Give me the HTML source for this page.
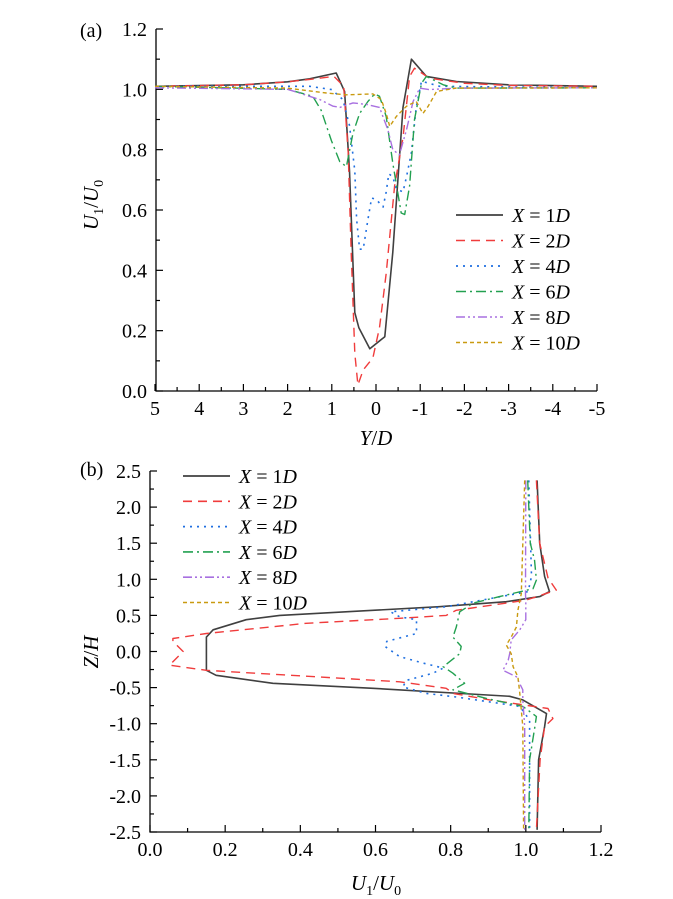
<!DOCTYPE html>
<html><head><meta charset="utf-8"><style>
html,body{margin:0;padding:0;background:#fff;}
svg{display:block;font-family:"Liberation Serif",serif;}
</style></head><body>
<svg id="c" width="673" height="899" viewBox="0 0 673 899" xmlns="http://www.w3.org/2000/svg"></svg>
<script>
// ---- panel (a) data: Y/D vs U1/U0 ----
const seriesNames = ["X = 1", "X = 2", "X = 4", "X = 6", "X = 8", "X = 10"];
const aY1 = [5,3,2,1.5,0.9,0.71,0.6,0.48,0.39,0.14,-0.2,-0.38,-0.61,-0.8,-1.14,-1.82,-3,-5];
const aU1 = [1.01,1.015,1.025,1.035,1.054,0.993,0.73,0.26,0.21,0.14,0.18,0.46,0.94,1.10,1.043,1.026,1.015,1.01];
const aY2 = [5,3,2,1.5,0.95,0.73,0.63,0.56,0.48,0.41,0.29,0.07,-0.08,-0.23,-0.42,-0.61,-0.76,-0.87,-1.21,-2,-3,-5];
const aU2 = [1.01,1.015,1.025,1.033,1.043,1.01,0.79,0.46,0.125,0.02,0.07,0.11,0.21,0.39,0.68,0.84,1.043,1.07,1.037,1.02,1.013,1.01];
const aY4 = [5,1.5,1,0.75,0.6,0.48,0.44,0.37,0.29,0.18,0.1,-0.01,-0.16,-0.23,-0.29,-0.38,-0.46,-0.61,-0.69,-0.8,-0.91,-1.03,-1.44,-5];
const aU4 = [1.01,1.01,0.999,0.966,0.88,0.73,0.57,0.47,0.47,0.57,0.64,0.634,0.61,0.66,0.72,0.71,0.67,0.66,0.71,0.79,0.94,1.027,1.01,1.005];
const aY6 = [5,2,1.43,1.24,1.01,0.82,0.67,0.52,0.37,0.18,0.03,-0.08,-0.23,-0.38,-0.57,-0.65,-0.76,-0.87,-1.03,-1.14,-1.52,-1.82,-5];
const aU6 = [1.01,1.0,0.977,0.93,0.83,0.76,0.744,0.855,0.92,0.96,0.985,0.977,0.91,0.755,0.59,0.585,0.68,0.9,1.02,1.043,1.015,1.004,1.005];
const aY8 = [5,2,1.27,0.97,0.82,0.52,0.22,-0.08,-0.27,-0.38,-0.53,-0.69,-0.84,-0.99,-1.21,-1.82,-5];
const aU8 = [1.005,1.0,0.966,0.944,0.94,0.955,0.95,0.94,0.866,0.80,0.783,0.866,0.96,1.004,0.999,1.004,1.005];
const aY10 = [5,2,1.12,0.67,0.07,-0.12,-0.23,-0.31,-0.46,-0.69,-0.91,-1.06,-1.18,-1.37,-1.82,-5];
const aU10 = [1.01,1.004,0.988,0.982,0.985,0.966,0.92,0.877,0.91,0.944,0.96,0.92,0.944,0.993,1.004,1.005];
const aXTicks = ["5","4","3","2","1","0","-1","-2","-3","-4","-5"];
const aXTickVals = [5,4,3,2,1,0,-1,-2,-3,-4,-5];
const aYTicks = ["0.0","0.2","0.4","0.6","0.8","1.0","1.2"];
const aYTickVals = [0,0.2,0.4,0.6,0.8,1.0,1.2];

// ---- panel (b) data: U1/U0 vs Z/H ----
const bZ1 = [2.37,1.5,1.04,0.83,0.76,0.69,0.62,0.5,0.44,0.3,0.2,-0.26,-0.33,-0.44,-0.51,-0.62,-0.67,-0.86,-1.04,-1.5,-2.47];
const bU1 = [1.03,1.037,1.05,1.063,1.037,0.948,0.77,0.345,0.256,0.168,0.15,0.15,0.176,0.327,0.593,0.957,0.992,1.055,1.05,1.034,1.03];
const bZ2 = [2.37,1.5,1.02,0.85,0.71,0.57,0.5,0.46,0.39,0.25,0.18,0.14,0,-0.19,-0.26,-0.37,-0.42,-0.51,-0.58,-0.67,-0.79,-0.93,-1.04,-1.5,-2.47];
const bU2 = [1.028,1.037,1.059,1.081,1.0,0.815,0.788,0.664,0.416,0.15,0.061,0.061,0.088,0.052,0.15,0.505,0.664,0.788,0.806,0.904,1.059,1.072,1.05,1.038,1.028];
const bZ4 = [2.37,1.04,0.83,0.69,0.62,0.55,0.48,0.44,0.25,0.14,0.07,-0.07,-0.16,-0.23,-0.3,-0.4,-0.49,-0.58,-0.63,-0.76,-0.95,-2.47];
const bU4 = [1.008,1.015,1.006,0.86,0.79,0.64,0.664,0.709,0.709,0.63,0.625,0.664,0.727,0.78,0.753,0.682,0.673,0.735,0.815,0.984,1.01,1.01];
const bZ6 = [2.37,1.5,1.27,0.99,0.87,0.76,0.67,0.55,0.34,0.2,0.07,-0.03,-0.21,-0.3,-0.44,-0.53,-0.65,-0.76,-0.9,-1.04,-1.5,-2.47];
const bU6 = [1.005,1.012,1.023,1.028,1.019,0.93,0.86,0.824,0.815,0.806,0.828,0.824,0.78,0.806,0.837,0.806,0.895,0.992,1.028,1.024,1.01,1.008];
const bZ8 = [2.37,0.8,0.67,0.44,0.3,0.16,-0.03,-0.12,-0.26,-0.35,-0.53,-0.67,-1.04,-2.47];
const bU8 = [1.0,0.999,1.0,1.0,0.984,0.961,0.957,0.953,0.939,0.975,0.992,0.992,0.997,0.997];
const bZ10 = [2.37,0.8,0.57,0.34,0.2,0.09,-0.03,-0.21,-0.35,-0.58,-1.04,-2.47];
const bU10 = [0.997,0.988,0.979,0.975,0.961,0.948,0.961,0.966,0.979,0.984,0.992,0.994];
const bXTicks = ["0.0","0.2","0.4","0.6","0.8","1.0","1.2"];
const bXTickVals = [0,0.2,0.4,0.6,0.8,1.0,1.2];
const bYTicks = ["-2.5","-2.0","-1.5","-1.0","-0.5","0.0","0.5","1.0","1.5","2.0","2.5"];
const bYTickVals = [-2.5,-2,-1.5,-1,-0.5,0,0.5,1,1.5,2,2.5];
const legendNums = ["1","2","4","6","8","10"];

const colors = ["#404040","#f03c3c","#1f6fe0","#22a050","#a870e0","#c99a10"];
const dashes = ["", "9,6", "2,5", "10,4,2,4", "9,3,2,3,2,3", "4,3"];
const widths = [1.6,1.4,1.6,1.4,1.4,1.4];

const NS = "http://www.w3.org/2000/svg";
const svg = document.getElementById("c");
function mk(tag, attrs, parent){
  const e = document.createElementNS(NS, tag);
  for (const k in attrs) e.setAttribute(k, attrs[k]);
  (parent||svg).appendChild(e);
  return e;
}

// axis functions
const ax = v => 155 + (5 - v) * 44.2;
const ay = v => 391 - v * (362 / 1.2);
const bx = v => 150 + v * (451 / 1.2);
const by = v => 471 + (2.5 - v) * (361 / 5);

function drawPanel(opts){
  const g = mk("g", {});
  
  
  // axes lines
  const axl = mk("path", {d:`M${opts.x0},${opts.yTop} V${opts.yBot} H${opts.x1}`, stroke:"#000", "stroke-width":1.3, fill:"none"}, g);
  
  
  // x ticks
  opts.xVals.forEach((v,i)=>{
    const x = opts.fx(v);
    const t = mk("line", {x1:x, x2:x, y1:opts.yBot, y2:opts.yBot-7, stroke:"#000", "stroke-width":1.2}, g);
    
    
    if (i < opts.xVals.length-1){
      const xm = opts.fx((v + opts.xVals[i+1]) / 2);
      const m = mk("line", {x1:xm, x2:xm, y1:opts.yBot, y2:opts.yBot-4, stroke:"#000", "stroke-width":1.2}, g);
      
      
    }
    const tx = mk("text", {x:x, y:opts.yBot+24, "font-size":20, "text-anchor":"middle"}, g);
    tx.textContent = opts.xLabels[i];
    
    
  });
  opts.yVals.forEach((v,i)=>{
    const y = opts.fy(v);
    const t = mk("line", {x1:opts.x0, x2:opts.x0+7, y1:y, y2:y, stroke:"#000", "stroke-width":1.2}, g);
    
    
    if (i < opts.yVals.length-1){
      const ym = opts.fy((v + opts.yVals[i+1]) / 2);
      const m = mk("line", {x1:opts.x0, x2:opts.x0+4, y1:ym, y2:ym, stroke:"#000", "stroke-width":1.2}, g);
      
      
    }
    const tx = mk("text", {x:opts.x0-9, y:y+7, "font-size":20, "text-anchor":"end"}, g);
    tx.textContent = opts.yLabels[i];
    
    
  });
  return g;
}

function drawSeries(g, xs, ys, fx, fy, i, name){
  const d = xs.map((x,k)=>(k?"L":"M")+fx(x).toFixed(1)+","+fy(ys[k]).toFixed(1)).join(" ");
  const p = mk("path", {d:d, fill:"none", stroke:colors[i], "stroke-width":widths[i], "stroke-dasharray":dashes[i], "stroke-linejoin":"round"}, g);
  
  
}

function drawLegend(g, lx, tx, y0, dy, prefix){
  legendNums.forEach((n,i)=>{
    const y = y0 + i*dy;
    const ln = mk("line", {x1:lx, x2:lx+47, y1:y, y2:y, stroke:colors[i], "stroke-width":widths[i]+0.2, "stroke-dasharray":dashes[i]}, g);
    
    
    const t = mk("text", {x:tx, y:y+7, "font-size":20}, g);
    t.innerHTML = '<tspan font-style="italic">X</tspan> = ' + n + '<tspan font-style="italic">D</tspan>';
    
    
  });
}

// Panel (a)
const ga = drawPanel({name:"panel-a", x0:156, x1:597, yTop:29, yBot:391, fx:ax, fy:ay,
  xVals:aXTickVals, xLabels:aXTicks, yVals:aYTickVals, yLabels:aYTicks});
const aSets = [[aY1,aU1],[aY2,aU2],[aY4,aU4],[aY6,aU6],[aY8,aU8],[aY10,aU10]];
aSets.forEach((s,i)=>drawSeries(ga, s[0], s[1], ax, ay, i, 'a-line-' + legendNums[i] + 'd'));
drawLegend(ga, 456, 512, 215, 25.5, 'a');

// Panel (b)
const gb = drawPanel({name:"panel-b", x0:150, x1:601, yTop:471, yBot:832, fx:bx, fy:by,
  xVals:bXTickVals, xLabels:bXTicks, yVals:bYTickVals, yLabels:bYTicks});
const bSets = [[bU1,bZ1],[bU2,bZ2],[bU4,bZ4],[bU6,bZ6],[bU8,bZ8],[bU10,bZ10]];
bSets.forEach((s,i)=>drawSeries(gb, s[0], s[1], bx, by, i, 'b-line-' + legendNums[i] + 'd'));
drawLegend(gb, 183, 239, 476, 25.3, 'b');
</script>
<svg width="0" height="0"></svg>
<div style="position:absolute;left:0;top:0;width:673px;height:899px;pointer-events:none;">
<svg width="673" height="899" style="position:absolute;left:0;top:0;font-family:'Liberation Serif',serif;">
  <text x="80" y="37" font-size="20">(a)</text>
  <text x="80" y="476" font-size="20">(b)</text>
  <text transform="translate(98,205) rotate(-90)" font-size="21" text-anchor="middle"><tspan font-style="italic">U</tspan><tspan font-size="14" dy="5">1</tspan><tspan dy="-5">/</tspan><tspan font-style="italic">U</tspan><tspan font-size="14" dy="5">0</tspan></text>
  <text x="376" y="445" font-size="21" text-anchor="middle"><tspan font-style="italic">Y</tspan>/<tspan font-style="italic">D</tspan></text>
  <text transform="translate(98,652) rotate(-90)" font-size="21" text-anchor="middle"><tspan font-style="italic">Z</tspan>/<tspan font-style="italic">H</tspan></text>
  <text x="376" y="890" font-size="21" text-anchor="middle"><tspan font-style="italic">U</tspan><tspan font-size="14" dy="5">1</tspan><tspan dy="-5">/</tspan><tspan font-style="italic">U</tspan><tspan font-size="14" dy="5">0</tspan></text>
</svg>
</div>
</body></html>
